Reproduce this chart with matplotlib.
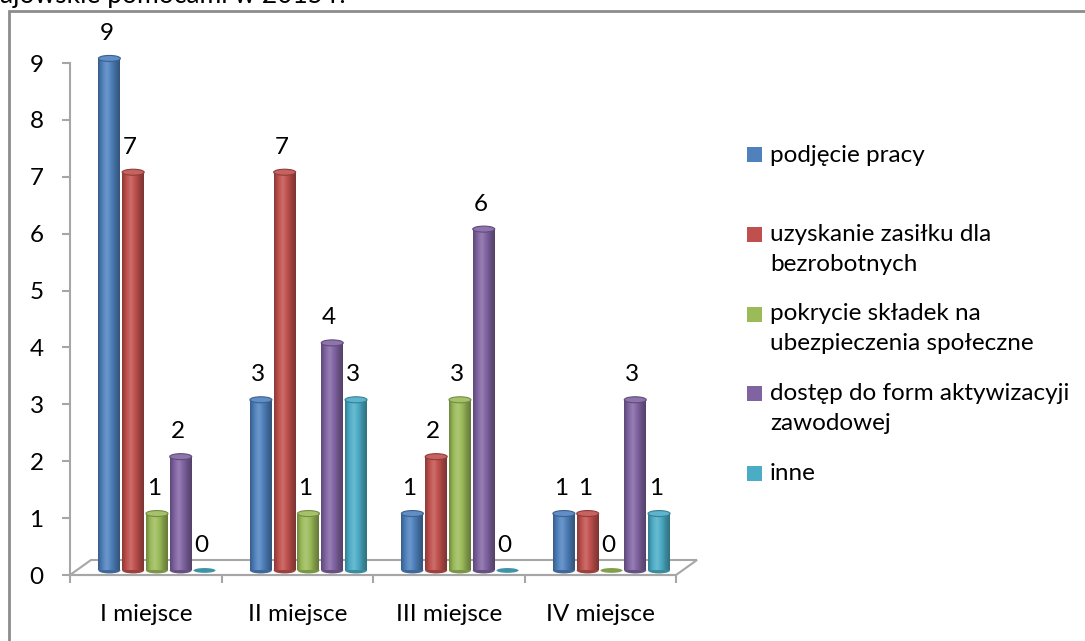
import matplotlib.pyplot as plt
import numpy as np
from matplotlib.colors import LinearSegmentedColormap, to_rgb
from matplotlib.patches import Rectangle, Ellipse, Polygon

plt.rcParams['font.family'] = ['Lato', 'DejaVu Sans']

categories = ['I miejsce', 'II miejsce', 'III miejsce', 'IV miejsce']
series_names = ['podjęcie pracy',
                'uzyskanie zasiłku dla\nbezrobotnych',
                'pokrycie składek na\nubezpieczenia społeczne',
                'dostęp do form aktywizacyji\nzawodowej',
                'inne']
podjecie_pracy = [9, 3, 1, 1]
zasilek = [7, 7, 2, 1]
skladki = [1, 1, 3, 0]
aktywizacja = [2, 4, 6, 3]
inne = [0, 3, 0, 1]
values = [podjecie_pracy, zasilek, skladki, aktywizacja, inne]
colors = ['#4F81BD', '#C0504D', '#9BBB59', '#8064A2', '#4BACC6']

W, H = 1085, 641
fs = 17.5
fig = plt.figure(figsize=(W / 100, H / 100), dpi=100)

# axes placed so that x spans the 3D floor front edge and y=0 sits on it
px_unit = (575 - 63) / 9
ymax = (575 - 30) / px_unit
ax = fig.add_axes([70 / W, (H - 575) / H, 606 / W, 545 / H])

gray = '#A6A6A6'
# floor of the 3D chart
dx, dy = 21 / 151.5, 15 / px_unit
floor = Polygon([(-0.5, 0), (3.5, 0), (3.5 + dx, dy), (-0.5 + dx, dy)],
                closed=True, facecolor='white', edgecolor=gray, lw=1.5,
                clip_on=False, zorder=1)
ax.add_patch(floor)

base = 0.08
spacing = 0.157
bw = 0.145
shift = 0.074
ell_h = 6 / px_unit

def shade(c, f):
    r = np.array(to_rgb(c))
    if f < 1:
        return tuple(r * f)
    return tuple(r + (1 - r) * (f - 1))

for i, (vals, col) in enumerate(zip(values, colors)):
    cmap = LinearSegmentedColormap.from_list(
        f's{i}', [shade(col, 0.72), shade(col, 1.0), shade(col, 1.18),
                  shade(col, 1.0), shade(col, 0.8), shade(col, 0.65)])
    grad = np.linspace(0, 1, 64).reshape(1, -1)
    for j, v in enumerate(vals):
        xc = j + shift + (i - 2) * spacing
        x0 = xc - bw / 2
        if v > 0:
            ax.add_patch(Ellipse((xc, base), bw, ell_h, facecolor=shade(col, 0.8),
                                 edgecolor='none', zorder=3))
            ax.imshow(grad, cmap=cmap, aspect='auto', interpolation='bicubic',
                      extent=(x0, x0 + bw, base, base + v), zorder=3)
            ax.add_patch(Ellipse((xc, base + v), bw, ell_h, facecolor=shade(col, 1.1),
                                 edgecolor=shade(col, 0.75), lw=0.8, zorder=4))
        else:
            ax.add_patch(Ellipse((xc, base), bw, ell_h * 0.8, facecolor=shade(col, 0.85),
                                 edgecolor='none', zorder=3))
        ax.text(xc - 0.02, v + 0.52, str(v), ha='center', va='center',
                fontsize=fs, color='black', zorder=5)

ax.set_xlim(-0.5, 3.5)
ax.set_ylim(0, ymax)

for s in ['top', 'right']:
    ax.spines[s].set_visible(False)
ax.spines['left'].set_bounds(0, 9)
ax.spines['left'].set_color(gray)
ax.spines['left'].set_linewidth(1.5)
ax.spines['bottom'].set_color(gray)
ax.spines['bottom'].set_linewidth(1.5)
ax.set_yticks(range(10))
ax.tick_params(axis='y', length=6, width=1.5, color=gray, pad=13, labelsize=fs)
ax.set_xticks([-0.5, 0.5, 1.5, 2.5, 3.5])
ax.set_xticklabels([])
ax.set_xticks(range(4), minor=True)
ax.set_xticklabels(categories, minor=True)
ax.tick_params(axis='x', which='major', length=6, width=1.5, color=gray)
ax.tick_params(axis='x', which='minor', length=0, pad=21, labelsize=fs)
ax.patch.set_alpha(0)

# legend drawn as boxes and lines of text
for i, (name, col) in enumerate(zip(series_names, colors)):
    yc = 155 + i * 79.5
    fig.patches.append(Rectangle((747 / W, 1 - (yc + 7.5) / H), 15 / W, 15 / H,
                                 facecolor=col, edgecolor='none',
                                 transform=fig.transFigure))
    for k, line in enumerate(name.split('\n')):
        fig.text(770 / W, 1 - (yc + k * 30) / H, line, ha='left', va='center',
                 fontsize=fs, color='black')

# outer frame of the chart area
fig.patches.append(Rectangle((9 / W, -0.05), 1.1, 1 - 11 / H + 0.05, facecolor='none',
                             edgecolor='#8C8C8C', lw=2, transform=fig.transFigure))

# cut-off title above the chart
fig.text(0, 1 - 3 / H, 'ajowskie pomocami w 2015 r.', ha='left', va='baseline',
         fontsize=19, color='black')

fig.savefig('out.png', dpi=100)
